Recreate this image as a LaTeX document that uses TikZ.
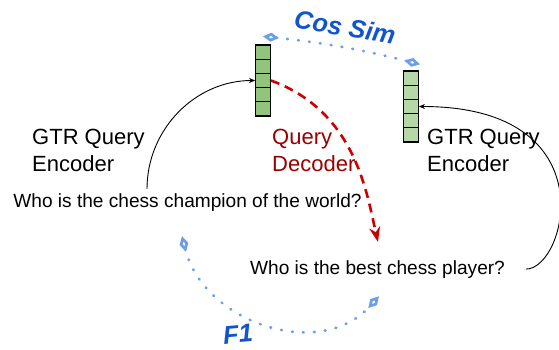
\documentclass[tikz,border=0pt]{standalone}
\usepackage{fontspec}
\setmainfont{Liberation Sans}
\usetikzlibrary{arrows.meta}
\definecolor{simblue}{HTML}{1155CC}
\definecolor{dotblue}{HTML}{6D9EEB}
\definecolor{vecgreen}{HTML}{93C47D}
\definecolor{vecgreenl}{HTML}{B6D7A8}
\definecolor{decred}{HTML}{990000}
\definecolor{arrred}{HTML}{CC0000}
\begin{document}
\begin{tikzpicture}[x=1pt,y=1pt,
  cell/.style={draw,line width=1.3pt,minimum width=14.5pt,minimum height=14.2pt,inner sep=0pt},
  question/.style={font=\fontsize{19.1}{22}\selectfont,inner sep=4pt,anchor=base},
  model/.style={font=\fontsize{22}{27}\selectfont,align=left,inner sep=0pt,anchor=north west},
  metric/.style={font=\fontsize{25.5}{28}\selectfont\bfseries\itshape,text=simblue,inner sep=0pt},
  simline/.style={dotblue,line width=2.7pt,line cap=round,dash pattern=on 0.8pt off 10.2pt,
    {Diamond[open,length=16pt,width=9pt]}-{Diamond[open,length=16pt,width=9pt]}},
  encarrow/.style={line width=0.9pt,-{Stealth[length=6pt,width=5pt]}}]
\useasboundingbox (0,0) rectangle (559,-349);

% embedding vectors
\foreach \i in {1,...,5}
  \node[cell,fill=vecgreen] (L\i) at (263,{-37.9-14.2*\i}) {};
\foreach \i in {1,...,5}
  \node[cell,fill=vecgreenl] (R\i) at (411,{-63.9-14.2*\i}) {};

\node[model] (encL) at (32,-128.8) {GTR Query\\Encoder};
\node[model,text=decred] (dec) at (272,-128.8) {Query\\Decoder};
\node[model] (encR) at (427,-128.8) {GTR Query\\Encoder};

\node[question] (q1) at (187.5,-207) {Who is the chess champion of the world?};
\node[question,inner xsep=21pt] (q2) at (377.5,-274) {Who is the best chess player?};

\node[metric,rotate=-10] (cos) at (345,-27) {Cos Sim};
\node[metric,rotate=5] (f1) at (238,-334) {F1};

\draw[encarrow] ([xshift=-40.5pt]q1.north) to[out=90,in=180] (L3.west);
\draw[encarrow] (q2.east) .. controls +(40,0) and +(190,0) .. (R3.east);

\coordinate (dectip) at (378,-242);
\draw[arrred,line width=2.6pt,dash pattern=on 9pt off 6pt,-{Stealth[length=15pt,width=11pt]}]
  (L3.east) .. controls +(-20:90) and +(103:50) .. (dectip);

\draw[simline] ([yshift=8pt]L1.north) to[bend left=4] ([shift={(9pt,6pt)}]R1.north);
\draw[simline] ([shift={(-5.5pt,-21pt)}]q1.south) to[out=-76,in=-132,looseness=1.1] ([shift={(1.5pt,-14pt)}]q2.south);
\end{tikzpicture}
\end{document}
